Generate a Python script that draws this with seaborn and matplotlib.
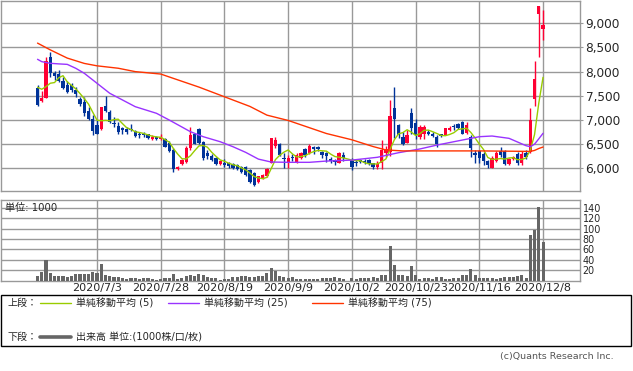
import numpy as np
import pandas as pd
import matplotlib
matplotlib.use("Agg")
import matplotlib.pyplot as plt
from matplotlib.lines import Line2D
from matplotlib.patches import Rectangle
import seaborn as sns

# trading-day index (2020/7/3 = 0); 2020/10/1 (index 59) had no trading
day = [d for d in range(-14, 106) if d != 59]

open_ = [7660, 7390, 7460, 8300, 7970, 7950, 7810, 7720, 7720, 7630, 7430, 7370, 7190, 7020,
         6900, 6820, 7290, 7170, 6940, 6880, 6840, 6820, 6820, 6780, 6720, 6710, 6710, 6600,
         6650, 6600, 6600, 6520, 6380, 5980, 6080, 6140, 6410, 6700, 6820, 6540, 6310, 6260,
         6220, 6080, 6120, 6100, 6090, 6070, 6030, 6020, 5960, 5900, 5720, 5790, 5840, 6120,
         6460, 6500, 6220, 6100, 6240, 6140, 6210, 6390, 6310, 6450, 6440, 6340, 6310, 6200,
         6180, 6120, 6280,
         6170, 6140, 6170, 6160, 6170, 6100, 6030, 6100, 6310, 6340, 7240, 6900, 6650, 6530,
         7140, 6930, 6650, 6720, 6760, 6720, 6650, 6700, 6690, 6790, 6870, 6910, 6960, 6740,
         6650, 6320, 6360, 6300, 6150, 6010, 6160, 6360, 6360, 6090, 6190, 6290, 6100, 6310,
         6340, 7430, 9190, 8890]
high = [7720, 7600, 8300, 8410, 8010, 8030, 7890, 7810, 7760, 7680, 7480, 7480, 7270, 7100,
        7000, 7260, 7500, 7210, 7060, 6960, 6860, 6860, 6920, 6800, 6750, 6750, 6720, 6680,
        6670, 6700, 6630, 6560, 6410, 6040, 6190, 6470, 6860, 6720, 6840, 6560, 6380, 6290,
        6240, 6170, 6190, 6140, 6110, 6090, 6050, 6040, 5990, 5920, 5850, 5880, 6000, 6620,
        6650, 6530, 6310, 6280, 6300, 6320, 6330, 6410, 6510, 6460, 6470, 6360, 6340, 6230,
        6200, 6330, 6340,
        6210, 6170, 6200, 6190, 6190, 6120, 6150, 6590, 6470, 7410, 7680, 6920, 6750, 6800,
        7240, 7010, 6890, 6890, 6790, 6760, 6680, 6720, 6840, 6880, 6910, 6940, 6970, 6960,
        6680, 6370, 6370, 6340, 6170, 6250, 6350, 6450, 6380, 6210, 6250, 6330, 6350, 6380,
        7250, 8210, 9360, 9280]
low = [7290, 7370, 7460, 7880, 7830, 7790, 7650, 7560, 7580, 7470, 7290, 7080, 6990, 6690,
       6700, 6790, 7170, 6930, 6860, 6720, 6720, 6720, 6780, 6640, 6620, 6650, 6610, 6590,
       6590, 6590, 6440, 6340, 5930, 5970, 6060, 6120, 6380, 6500, 6500, 6170, 6200, 6150,
       6060, 6070, 6030, 6000, 5990, 5970, 5900, 5840, 5700, 5630, 5690, 5770, 5820, 6100,
       6430, 6250, 6000, 6000, 6160, 6120, 6190, 6230, 6290, 6300, 6350, 6220, 6140, 6110,
       6060, 6100, 6160,
       5960, 6050, 6100, 6090, 6060, 5980, 5980, 5990, 6230, 6260, 6620, 6620, 6480, 6520,
       6720, 6610, 6610, 6610, 6680, 6640, 6440, 6640, 6680, 6780, 6800, 6820, 6700, 6700,
       6230, 6100, 6100, 6070, 6000, 6010, 6140, 6240, 6070, 6070, 6170, 6070, 6070, 6200,
       6310, 7280, 8310, 8660]
close = [7310, 7460, 8220, 7980, 7900, 7810, 7670, 7580, 7620, 7540, 7320, 7150, 7010, 6780,
         6720, 7260, 7190, 6960, 6910, 6760, 6800, 6760, 6790, 6670, 6690, 6690, 6620, 6650,
         6600, 6650, 6450, 6360, 5980, 6030, 6170, 6430, 6690, 6510, 6520, 6210, 6250, 6170,
         6090, 6150, 6070, 6050, 6010, 5990, 5930, 5860, 5720, 5650, 5840, 5860, 5990, 6620,
         6590, 6280, 6190, 6220, 6210, 6280, 6310, 6280, 6470, 6390, 6400, 6270, 6250, 6160,
         6140, 6320, 6210,
         6020, 6100, 6130, 6120, 6090, 6020, 6080, 6380, 6390, 7080, 7030, 6690, 6500, 6690,
         6830, 6690, 6860, 6860, 6710, 6670, 6500, 6660, 6830, 6840, 6850, 6840, 6720, 6890,
         6410, 6280, 6210, 6150, 6070, 6210, 6310, 6270, 6090, 6190, 6240, 6100, 6300, 6240,
         7000, 7850, 9360, 8960]
volume = [7.8, 15.5, 38.8, 13.6, 7.8, 9, 9, 7, 9, 12.3, 12.3, 11.6, 12.3, 16.8,
          14.9, 31, 11, 9, 6.5, 6.5, 3.9, 3.2, 3.9, 3.9, 3.2, 3.9, 3.9, 2,
          1.3, 3.2, 5, 5, 13, 2, 4.5, 8.4, 11, 8.4, 12.3, 9.7, 5.8, 5,
          4.5, 1.3, 3.2, 3.2, 5.8, 6.5, 9, 7.8, 5.8, 6.5, 9, 7.8, 14.2, 24,
          18, 7.8, 6.5, 3.9, 5.8, 3.2, 2.6, 3.2, 2, 2.6, 3.2, 3.9, 3.9, 3.9,
          5.8, 4.5, 2.6,
          3.9, 3.2, 3.9, 3.9, 4.5, 5.8, 3.9, 11, 9.7, 66, 30.4, 9.7, 9.7, 8.4,
          27.2, 9.7, 2, 5.2, 3.9, 2.6, 5.8, 5.8, 3.2, 2, 3.9, 4.5, 11, 9.7,
          21.4, 9.7, 3.9, 5.2, 5.2, 3.9, 2, 3.9, 7.1, 5.8, 5.8, 7.8, 11, 4.5,
          87.3, 97.7, 141.7, 73.8]

# first four 5-day averages (earlier closes are outside the chart)
ma5_head = [7676, 7635, 7690, 7760]

ma25_day = [-14, -13, -11, -9, -7, -5, -3, 0, 3, 9, 14, 17, 22, 25, 29, 32, 35, 38, 41,
            45, 50, 54, 60, 66, 71, 76, 80, 84, 90, 93, 97, 101, 102, 103, 104, 105]
ma25 = [8255, 8206, 8172, 8160, 8150, 8069, 7966, 7759, 7552, 7275, 7138, 6999, 6757, 6654,
        6550, 6447, 6330, 6190, 6130, 6124, 6124, 6150, 6170, 6228, 6323, 6400, 6480, 6550,
        6654, 6668, 6620, 6468, 6447, 6500, 6610, 6724]

ma75_day = [-14, -11, -7, -3, 0, 5, 9, 15, 20, 24, 30, 36, 40, 45, 48, 54, 60, 65, 68,
            72, 76, 90, 102, 103, 104, 105]
ma75 = [8590, 8450, 8280, 8170, 8120, 8070, 8000, 7950, 7800, 7680, 7480, 7280, 7100, 6990,
        6900, 6720, 6590, 6450, 6380, 6360, 6360, 6360, 6350, 6370, 6410, 6440]

tick_day = [0, 15, 30, 45, 60, 75, 90, 105]
tick_label = ["2020/7/3", "2020/7/28", "2020/8/19", "2020/9/9",
              "2020/10/2", "2020/10/23", "2020/11/16", "2020/12/8"]
price_ticks = [6000, 6500, 7000, 7500, 8000, 8500, 9000]
vol_ticks = [20, 40, 60, 80, 100, 120, 140]

RED, BLUE = "#ff0033", "#003399"
C5, C25, C75 = "#99cc00", "#9933ff", "#ff3300"
GRID = "#999999"

sns.set_style("white")
plt.rcParams["font.family"] = ["DejaVu Sans", "Noto Sans CJK JP"]

W, H = 633, 371
fig = plt.figure(figsize=(W / 100, H / 100), dpi=100)


def fx(x):
    return x / W


def fy(y):
    return 1 - y / H


ax1 = fig.add_axes([fx(1), fy(190.5), fx(579), 189.5 / H])
ax2 = fig.add_axes([fx(1), fy(280.5), fx(579), 80.5 / H])

df = pd.DataFrame({"day": day, "open": open_, "high": high, "low": low,
                   "close": close, "volume": volume})
ma5 = df["close"].rolling(5).mean()
ma5.iloc[:4] = ma5_head
df["ma5"] = ma5
up = df["close"] >= df["open"]
colors = np.where(up, RED, BLUE)

# candles
ax1.vlines(df["day"], df["low"], df["high"], colors=colors, lw=1, zorder=3)
body_lo = np.minimum(df["open"], df["close"])
body_h = np.maximum((df["close"] - df["open"]).abs(), 15)
ax1.bar(df["day"], body_h, bottom=body_lo, width=0.78, color=colors, lw=0, zorder=4)

sns.lineplot(x=df["day"], y=df["ma5"], ax=ax1, color=C5, lw=1.0, zorder=5)
sns.lineplot(x=ma25_day, y=ma25, ax=ax1, color=C25, lw=1.0, zorder=5)
sns.lineplot(x=ma75_day, y=ma75, ax=ax1, color=C75, lw=1.0, zorder=5)

ax2.bar(df["day"], df["volume"], width=0.72, color="#666666", lw=0, zorder=3)

for ax in (ax1, ax2):
    ax.set_xlim(-22.6, 113.7)
    ax.set_xticks(tick_day)
    ax.grid(True, color=GRID, lw=1.0, zorder=0)
    ax.set_axisbelow(True)
    ax.set_xlabel("")
    ax.set_ylabel("")
    for s in ax.spines.values():
        s.set_color(GRID)
        s.set_linewidth(1.0)
    ax.yaxis.tick_right()
    ax.tick_params(axis="x", length=0)

ax1.set_ylim(5541, 9461)
ax1.set_yticks(price_ticks)
ax1.set_yticklabels([f"{v:,}" for v in price_ticks], fontsize=8.7)
ax1.tick_params(axis="y", length=2, color=GRID, pad=2)
ax1.set_xticklabels([])

ax2.set_ylim(0, 155)
ax2.set_yticks(vol_ticks)
ax2.set_yticklabels([str(v) for v in vol_ticks], fontsize=6.9)
ax2.tick_params(axis="y", length=0, pad=2)
ax2.set_xticklabels(tick_label, fontsize=8)
ax2.tick_params(axis="x", pad=2)
ax2.text(0.007, 0.9, "単位: 1000", transform=ax2.transAxes,
         fontsize=7.3, ha="left", va="center", zorder=1)

# legend box
fig.patches.append(Rectangle((fx(1), fy(346)), fx(630), 51 / H, transform=fig.transFigure,
                             fill=False, edgecolor="black", lw=1))
leg_fs = 7.2
fig.text(fx(8), fy(303), "上段：", fontsize=leg_fs, va="center")
fig.text(fx(8), fy(337), "下段：", fontsize=leg_fs, va="center")
for x0, col, label in [(40, C5, "単純移動平均 (5)"), (168, C25, "単純移動平均 (25)"),
                       (312, C75, "単純移動平均 (75)")]:
    fig.lines.append(Line2D([fx(x0), fx(x0 + 31)], [fy(303), fy(303)], color=col, lw=1.0,
                            transform=fig.transFigure))
    fig.text(fx(x0 + 36), fy(303), label, fontsize=leg_fs, va="center")
fig.lines.append(Line2D([fx(40), fx(71)], [fy(337), fy(337)], color="#666666", lw=2.6,
                        transform=fig.transFigure))
fig.text(fx(76), fy(337), "出来高 単位:(1000株/口/枚)", fontsize=leg_fs, va="center")

fig.text(fx(614), fy(357), "(c)Quants Research Inc.", fontsize=6.8, color="#555555",
         ha="right", va="center")

fig.savefig("out.png", dpi=100)
